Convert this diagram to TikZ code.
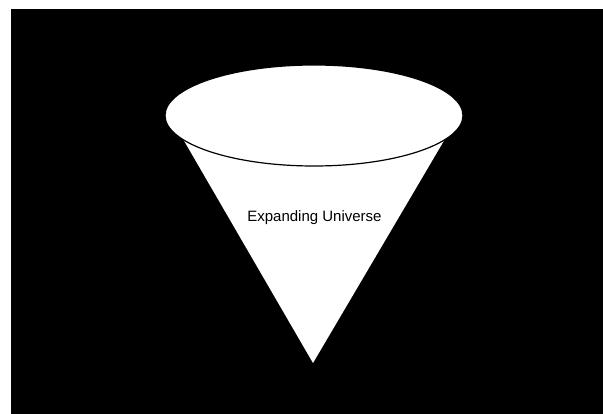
\documentclass[tikz,border=0pt]{standalone}
\usepackage{fontspec}
\setmainfont{Liberation Sans}
\usetikzlibrary{positioning}
\definecolor{Void}{HTML}{000000}
\definecolor{Paper}{HTML}{FFFFFF}

\begin{document}
\begin{tikzpicture}[x=1pt, y=-1pt,
          cone/.style={fill=Paper, draw=none},
          rim/.style={fill=Paper, draw=Void, line width=1.2pt},
          lbl/.style={font=\fontsize{15}{18}\selectfont, text=Void, inner sep=0pt}
        ]
          \fill[Paper] (0,0) rectangle (603,414);
          \useasboundingbox (0,0) rectangle (603,414);
          \fill[Void] (11,9) rectangle (603,414);
          \coordinate (apex) at (313,363);
          \coordinate (lft) at (183,139);
          \coordinate (rgt) at (445,139);
          \fill[cone] (lft) -- (rgt) -- (apex) -- cycle;
          \draw[rim] (314,115.5) ellipse [x radius=149, y radius=50.5];
          \node[lbl, anchor=base] (title) at (314.5,221.5) {Expanding Universe};
        \end{tikzpicture}
\end{document}
